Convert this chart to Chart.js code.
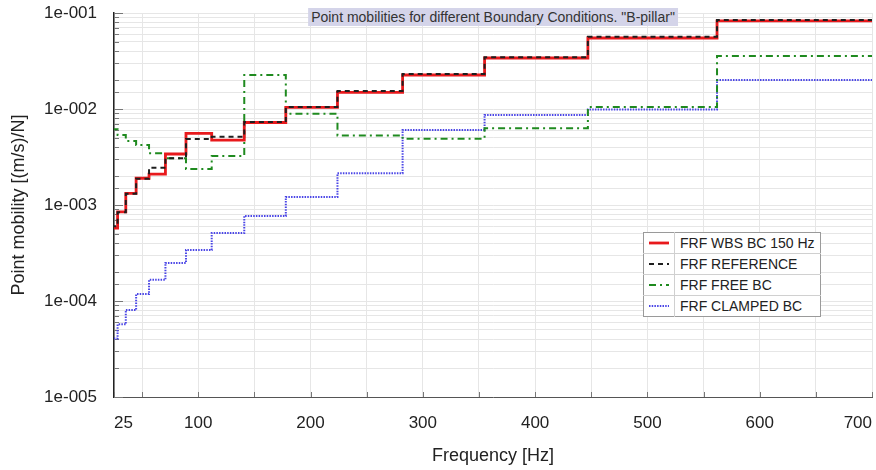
<!DOCTYPE html>
<html><head><meta charset="utf-8">
<script src="https://cdn.jsdelivr.net/npm/chart.js@4.4.0/dist/chart.umd.min.js"></script>
<style>
html,body{margin:0;padding:0;background:#fff;}
#wrap{position:relative;width:876px;height:470px;overflow:hidden;}
#title{position:absolute;top:8px;font:14px "Liberation Sans",Arial,sans-serif;color:#333;background:#d4d4e9;padding:1px 3px;white-space:nowrap;transform:translateX(-50%);}
#legend{position:absolute;left:643px;top:232px;border:1px solid #9a9a9a;background:#fff;border-collapse:collapse;font:14px "Liberation Sans",Arial,sans-serif;color:#222;}
#legend td{border-top:1px solid #d0d0d0;height:20px;padding:0;}
#legend tr:first-child td{border-top:none;}
#legend td.s{width:30px;border-right:1px solid #d0d0d0;text-align:center;line-height:0;}
#legend td.t{padding:0 5px 0 5px;}
</style></head><body>
<div id="wrap"><canvas id="c" width="876" height="470"></canvas><div id="title"></div><table id="legend"></table></div>
<script>
// 1/3-octave band edges (Hz): lower edges of bands 25 ... 630 Hz, plus upper edge of last band
const bandEdges = [22.4, 28.2, 35.5, 44.7, 56.2, 70.8, 89.1, 112, 141, 178, 224, 282, 355, 447, 562, 708];
// band values [(m/s)/N], bands 25,31.5,40,50,63,80,100,125,160,200,250,315,400,500,630 Hz
const wbsBC150 = [5.75e-4, 8.5e-4, 1.32e-3, 1.90e-3, 2.10e-3, 3.40e-3, 5.58e-3, 4.75e-3, 7.23e-3, 1.04e-2, 1.49e-2, 2.26e-2, 3.40e-2, 5.49e-2, 8.26e-2];
const reference = [6.0e-4, 8.4e-4, 1.31e-3, 1.88e-3, 2.45e-3, 3.06e-3, 4.87e-3, 5.14e-3, 7.3e-3, 1.05e-2, 1.54e-2, 2.32e-2, 3.45e-2, 5.66e-2, 8.45e-2];
const freeBC = [6.15e-3, 5.36e-3, 4.64e-3, 4.22e-3, 3.46e-3, 3.06e-3, 2.37e-3, 3.24e-3, 2.26e-2, 8.9e-3, 5.3e-3, 4.9e-3, 6.3e-3, 1.05e-2, 3.56e-2];
const clampedBC = [4.08e-5, 5.71e-5, 8.06e-5, 1.18e-4, 1.66e-4, 2.49e-4, 3.4e-4, 5.1e-4, 7.7e-4, 1.21e-3, 2.14e-3, 6.04e-3, 8.66e-3, 9.9e-3, 2.0e-2];
const seriesLabels = ['FRF WBS BC 150 Hz', 'FRF REFERENCE', 'FRF FREE BC', 'FRF CLAMPED BC'];
const xTickLabels = [25, 100, 200, 300, 400, 500, 600, 700];
const xGridStep = 50;
const xMin = 25, xMax = 700;
const yMin = 1e-5, yMax = 1e-1;
const chartTitle = 'Point mobilities for different Boundary Conditions. "B-pillar"';
const xTitle = 'Frequency [Hz]';
const yTitle = 'Point mobility [(m/s)/N]';

function stepPoints(vals){
  const pts = vals.map((v,i)=>({x: bandEdges[i], y: v}));
  pts.push({x: bandEdges[bandEdges.length-1], y: vals[vals.length-1]});
  return pts;
}
const styles = [
  {color:'#e8191c', width:2.8, dash:[], order:1},
  {color:'#1e1e1e', width:2, dash:[5,4], order:0},
  {color:'#1f8a1f', width:2, dash:[7,4,2,4], order:2},
  {color:'#4a45e6', width:2, dash:[1.5,1.2], order:3}
];
const seriesVals = [wbsBC150, reference, freeBC, clampedBC];
const datasets = seriesVals.map((vals,i)=>({
  label: seriesLabels[i], data: stepPoints(vals), stepped: true,
  borderColor: styles[i].color, borderWidth: styles[i].width, borderDash: styles[i].dash,
  pointRadius: 0, fill: false, order: styles[i].order, tension: 0
}));

const isDecade = v => Math.abs(Math.log10(v) - Math.round(Math.log10(v))) < 1e-6;
const fmtDecade = v => { const e = Math.round(Math.log10(v)); return '1e' + (e<0?'-':'+') + String(Math.abs(e)).padStart(3,'0'); };

const innerTicks = {
  id:'innerTicks',
  beforeDatasetsDraw(chart){
    const {ctx, chartArea:a, scales:{x,y}} = chart;
    ctx.save(); ctx.strokeStyle='#777'; ctx.lineWidth=1;
    y.ticks.forEach(t=>{ const py=Math.round(y.getPixelForValue(t.value))+0.5; const len=isDecade(t.value)?9:5;
      ctx.beginPath(); ctx.moveTo(a.left,py); ctx.lineTo(a.left+len,py); ctx.stroke(); });
    x.ticks.forEach(t=>{ const px=Math.round(x.getPixelForValue(t.value))+0.5;
      ctx.beginPath(); ctx.moveTo(px,a.bottom); ctx.lineTo(px,a.bottom-5); ctx.stroke(); });
    ctx.restore();
  }
};

const font = '"Liberation Sans", Arial, sans-serif';
const chart = new Chart(document.getElementById('c'), {
  type:'line',
  data:{datasets},
  plugins:[innerTicks],
  options:{
    responsive:false, animation:false,
    layout:{padding:{left:0,right:4,top:13,bottom:0}},
    plugins:{legend:{display:false}, tooltip:{enabled:false}, title:{display:false}},
    scales:{
      x:{type:'linear', min:xMin, max:xMax,
        afterBuildTicks(s){ const t=[{value:xMin}]; for(let v=xGridStep; v<=xMax; v+=xGridStep) t.push({value:v}); s.ticks=t; },
        afterFit(s){ s.height = 73; s.paddingLeft = 0; s.paddingRight = 0; },
        ticks:{autoSkip:false, maxRotation:0, align:'inner', padding:16, color:'#222', font:{family:font, size:17},
          callback:(v)=> xTickLabels.includes(v) ? String(v) : ''},
        grid:{color:'#e6e6e6', drawTicks:false},
        border:{color:'#555', width:1},
        title:{display:true, text:xTitle, color:'#222', font:{family:font, size:18}, padding:{top:0,bottom:3}}
      },
      y:{type:'logarithmic', min:yMin, max:yMax,
        afterFit(s){ s.width = 114; s.paddingTop = 0; s.paddingBottom = 0; },
        ticks:{autoSkip:false, padding:17, color:'#222', font:{family:font, size:17},
          callback:(v)=> isDecade(v) ? fmtDecade(v) : ''},
        grid:{color:'#e6e6e6', drawTicks:false},
        border:{color:'#222', width:1.5},
        title:{display:true, text:yTitle, color:'#222', font:{family:font, size:18}, padding:{top:8,bottom:0}}
      }
    }
  }
});

const ca = chart.chartArea;
const titleEl = document.getElementById('title');
titleEl.textContent = chartTitle;
titleEl.style.left = ((ca.left+ca.right)/2) + 'px';

const leg = document.getElementById('legend');
datasets.forEach(d=>{
  const tr = document.createElement('tr');
  const dash = d.borderDash.length ? d.borderDash.join(',') : 'none';
  tr.innerHTML = '<td class="s"><svg width="22" height="6"><line x1="1" y1="3" x2="21" y2="3" stroke="'+d.borderColor+'" stroke-width="'+d.borderWidth+'" stroke-dasharray="'+dash+'"/></svg></td><td class="t">'+d.label+'</td>';
  leg.appendChild(tr);
});
</script>
</body></html>
